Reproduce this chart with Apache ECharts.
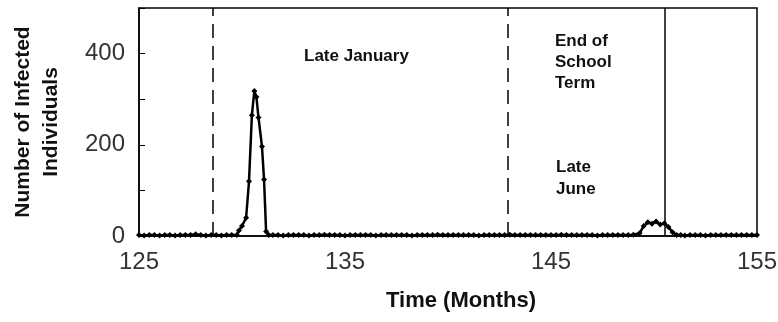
<!DOCTYPE html>
<html>
<head>
<meta charset="utf-8">
<script src="https://cdn.jsdelivr.net/npm/echarts@6/dist/echarts.min.js"></script>
<style>
html,body{margin:0;padding:0;background:#fff;}
#chart{width:778px;height:322px;}
</style>
</head>
<body>
<div id="chart"></div>
<script>
// time in months and number of infected individuals
var months = [
  125, 125.25, 125.5, 125.75, 126, 126.25, 126.5, 126.75, 127, 127.25, 127.5, 127.75,
  128, 128.25, 128.5, 128.75, 129, 129.25, 129.5, 129.75, 129.85, 130, 130.2, 130.34,
  130.48, 130.6, 130.7, 130.8, 130.97, 131.07, 131.17, 131.3, 131.5, 131.75,
  132, 132.25, 132.5, 132.75, 133, 133.25, 133.5, 133.75, 134, 134.25, 134.5, 134.75,
  135, 135.25, 135.5, 135.75, 136, 136.25, 136.5, 136.75, 137, 137.25, 137.5, 137.75,
  138, 138.25, 138.5, 138.75, 139, 139.25, 139.5, 139.75, 140, 140.25, 140.5, 140.75,
  141, 141.25, 141.5, 141.75, 142, 142.25, 142.5, 142.75, 143, 143.25, 143.5, 143.75,
  144, 144.25, 144.5, 144.75, 145, 145.25, 145.5, 145.75, 146, 146.25, 146.5, 146.75,
  147, 147.25, 147.5, 147.75, 148, 148.25, 148.5, 148.75, 149, 149.3, 149.5, 149.7,
  149.9, 150.1, 150.3, 150.5, 150.7, 150.9, 151.1, 151.3, 151.5, 151.75,
  152, 152.25, 152.5, 152.75, 153, 153.25, 153.5, 153.75, 154, 154.25, 154.5, 154.75, 155
];
var infected = [
  2, 1, 2, 2, 1, 2, 2, 1, 2, 2, 2, 4,
  2, 1, 2, 2, 1, 2, 2, 2, 12, 22, 40, 120,
  265, 318, 305, 260, 196, 124, 10, 2, 2, 2,
  1, 2, 2, 2, 2, 1, 2, 2, 3, 2, 2, 2,
  1, 2, 2, 2, 2, 2, 1, 2, 2, 2, 2, 2,
  2, 1, 2, 2, 2, 2, 3, 2, 2, 2, 2, 2,
  2, 2, 1, 2, 2, 2, 2, 2, 3, 2, 2, 2,
  2, 2, 2, 2, 2, 2, 3, 2, 2, 2, 2, 2,
  2, 1, 2, 2, 2, 2, 2, 2, 3, 6, 22, 30,
  27, 32, 25, 28, 20, 8, 2, 2, 1, 2,
  2, 2, 1, 2, 2, 2, 2, 2, 2, 2, 2, 2, 2
];
var yTicks = [0, 200, 400];
var eventLines = [
  {month: 128.6, dashed: true},
  {month: 142.9, dashed: true},
  {month: 150.5, dashed: false}
];

var seriesData = months.map(function (m, i) { return [m, infected[i]]; });

var chart = echarts.init(document.getElementById('chart'));
var option = {
  animation: false,
  grid: {
    left: 139, right: 21, top: 8, bottom: 86,
    outerBoundsMode: 'none',
    show: true, borderColor: '#000', borderWidth: 1.5
  },
  xAxis: {
    type: 'value',
    min: 125, max: 155, interval: 10,
    name: 'Time (Months)',
    nameLocation: 'middle',
    nameGap: 54,
    nameTextStyle: {fontFamily: 'Liberation Sans', fontWeight: 'bold', fontSize: 22, color: '#111', padding: [0, 0, 0, 26]},
    axisLine: {lineStyle: {color: '#000', width: 1.5}},
    axisTick: {show: false},
    splitLine: {show: false},
    axisLabel: {fontFamily: 'Liberation Sans', fontSize: 24, color: '#333', margin: 14}
  },
  yAxis: {
    type: 'value',
    min: 0, max: 500, interval: 100,
    name: 'Number of Infected\nIndividuals',
    nameLocation: 'middle',
    nameGap: 74,
    nameTextStyle: {fontFamily: 'Liberation Sans', fontWeight: 'bold', fontSize: 21, color: '#111', lineHeight: 28},
    axisLine: {show: true, lineStyle: {color: '#000', width: 1.5}},
    axisTick: {show: true, inside: true, length: 6, lineStyle: {color: '#000'}},
    splitLine: {show: false},
    axisLabel: {
      fontFamily: 'Liberation Sans', fontSize: 24, color: '#333', margin: 14,
      formatter: function (v) { return yTicks.indexOf(v) >= 0 ? String(v) : ''; }
    }
  },
  graphic: [
    {type: 'text', left: 304, top: 48, style: {text: 'Late January', font: 'bold 17px Liberation Sans', fill: '#111'}},
    {type: 'text', left: 555, top: 31, style: {text: 'End of\nSchool\nTerm', font: 'bold 17px Liberation Sans', lineHeight: 21, fill: '#111'}},
    {type: 'text', left: 556, top: 156, style: {text: 'Late\nJune', font: 'bold 17px Liberation Sans', lineHeight: 22, fill: '#111'}}
  ],
  series: [{
    type: 'line',
    data: seriesData,
    symbol: 'diamond',
    symbolSize: 6,
    showSymbol: true,
    itemStyle: {color: '#000'},
    lineStyle: {color: '#000', width: 2.5},
    markLine: {
      silent: true,
      symbol: 'none',
      label: {show: false},
      data: eventLines.map(function (e) {
        return {
          xAxis: e.month,
          lineStyle: {color: '#000', width: 1.5, type: e.dashed ? [14, 8] : 'solid'}
        };
      })
    }
  }]
};
chart.setOption(option);
</script>
</body>
</html>
